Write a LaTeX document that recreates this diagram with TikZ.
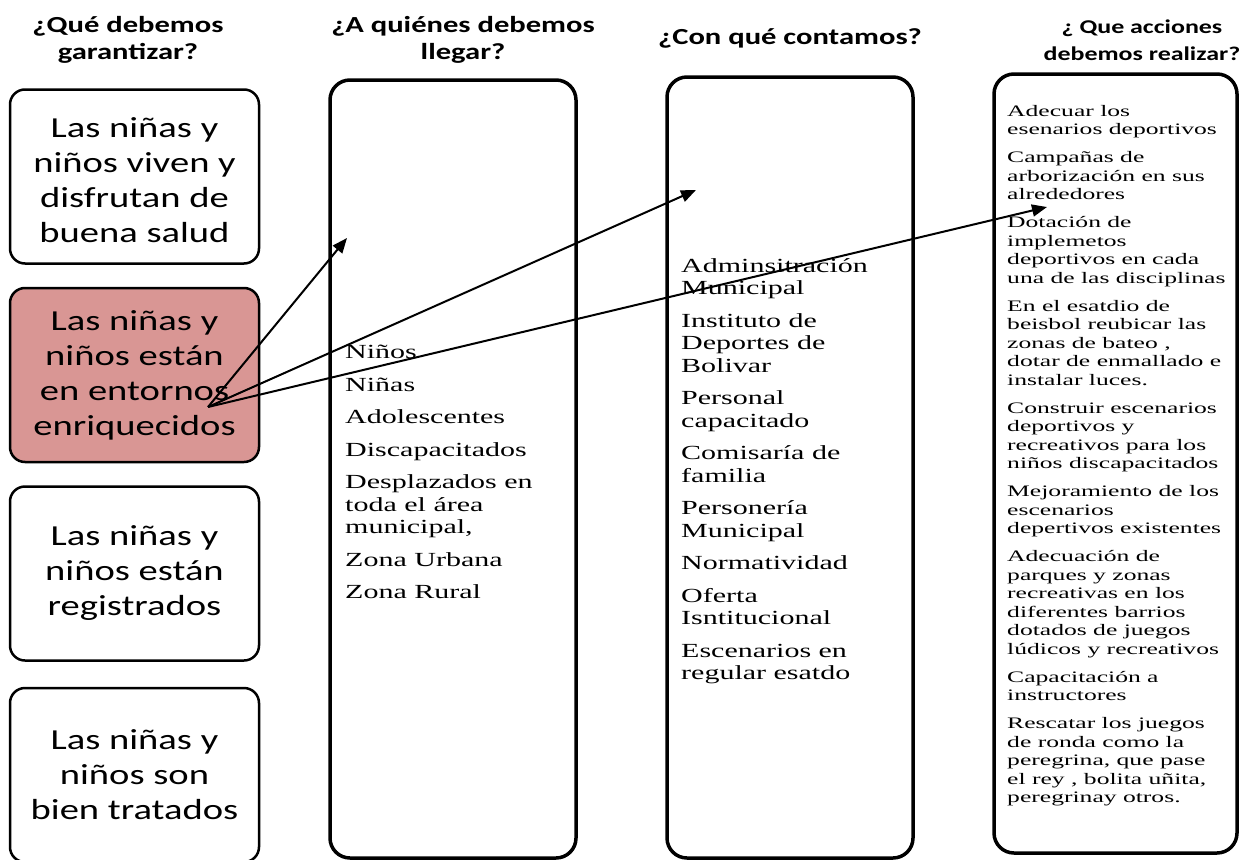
\documentclass[tikz,border=0pt]{standalone}
\usepackage{fontspec}
\setmainfont[FakeStretch=1.33]{Carlito}
\newfontfamily\listfont[FakeStretch=1.5]{Liberation Serif}
\newfontfamily\actfont[FakeStretch=1.6]{Liberation Serif}
\usetikzlibrary{positioning,arrows.meta}
\definecolor{goalpink}{HTML}{D99694}

\begin{document}
\begin{tikzpicture}[x=1pt,y=-1pt,node distance=22pt,
    head/.style={align=center,inner sep=0pt,font=\bfseries\fontsize{23}{27}\selectfont},
    goal/.style={draw,line width=2.5pt,rounded corners=15pt,minimum width=249pt,
      minimum height=174pt,align=center,font=\fontsize{29}{35}\selectfont},
    column/.style={draw,line width=3.5pt,rounded corners=20pt},
    items/.style={anchor=north west,align=left,inner sep=0pt},
    link/.style={-{Triangle[length=15pt,width=12pt]},line width=2pt}]
    \useasboundingbox (0,0) rectangle (1241,859);
    \node[head] (h1) at (128,40) {¿Qué debemos\\garantizar?};
    \node[head] (h2) at (463,40) {¿A quiénes debemos\\llegar?};
    \node[head] (h3) at (790,38) {¿Con qué contamos?};
    \node[head,font=\bfseries\fontsize{19.5}{27}\selectfont] (h4) at (1142,40) {¿ Que acciones\\debemos realizar?};
    \node[goal] (g1) at (134.5,176.5) {\\[-8pt]Las niñas y\\niños viven y\\disfrutan de\\buena salud};
    \node[goal,fill=goalpink,below=of g1] (g2) {Las niñas y\\niños están\\en entornos\\enriquecidos};
    \node[goal,below=of g2] (g3) {Las niñas y\\niños están\\registrados};
    \node[goal,below=25pt of g3] (g4) {Las niñas y\\niños son\\bien tratados};
    \node[column,minimum width=246pt,minimum height=778pt] (c2) at (453,469) {};
    \node[column,minimum width=246pt,minimum height=781pt] (c3) at (790,467.5) {};
    \node[column,minimum width=243pt,minimum height=779pt] (c4) at (1115.5,463.5) {};
    \node[items,font=\listfont\fontsize{20}{22.5}\selectfont] (who) at (345,345)
      {Niños\\[10pt]Niñas\\[10pt]Adolescentes\\[10pt]Discapacitados\\[10pt]Desplazados en\\toda el área\\municipal,\\[10pt]Zona Urbana\\[10pt]Zona Rural};
    \node[items,font=\listfont\fontsize{20}{22.5}\selectfont] (have) at (681,258)
      {Adminsitración\\Municipal\\[10pt]Instituto de\\Deportes de\\Bolivar\\[10pt]Personal\\capacitado\\[10pt]Comisaría de\\familia\\[10pt]Personería\\Municipal\\[10pt]Normatividad\\[10pt]Oferta\\Isntitucional\\[10pt]Escenarios en\\regular esatdo};
    \node[items,font=\actfont\fontsize{16}{18.5}\selectfont] (act) at (1007,105)
      {Adecuar los\\esenarios deportivos\\[9.5pt]Campañas de\\arborización en sus\\alrededores\\[9.5pt]Dotación de\\implemetos\\deportivos  en cada\\una de las disciplinas\\[9.5pt]En el esatdio de\\beisbol  reubicar las\\zonas de bateo ,\\dotar de enmallado e\\instalar luces.\\[9.5pt]Construir escenarios\\deportivos y\\recreativos  para los\\niños  discapacitados\\[9.5pt]Mejoramiento de los\\escenarios\\depertivos existentes\\[9.5pt]Adecuación de\\parques y zonas\\recreativas en los\\diferentes barrios\\dotados de juegos\\lúdicos  y recreativos\\[9.5pt]Capacitación a\\instructores\\[9.5pt]Rescatar  los juegos\\de ronda como la\\peregrina,  que pase\\el rey , bolita uñita,\\peregrinay  otros.};
    \coordinate (src) at (208,407);
    \coordinate (t1) at (347,238);
    \coordinate (t2) at (696,190);
    \coordinate (t3) at (1047,207);
    \draw[link] (src) -- (t1);
    \draw[link] (src) -- (t2);
    \draw[link] (src) -- (t3);
\end{tikzpicture}
\end{document}
